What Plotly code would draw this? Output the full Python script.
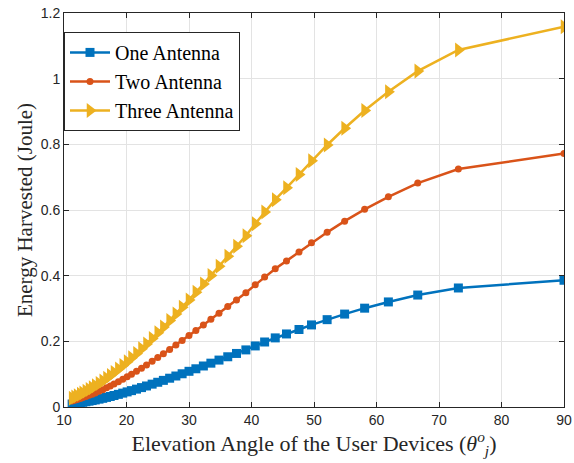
import plotly.graph_objects as go

# Elevation angle (degrees)
elevation = [11.3, 11.7, 12.1, 12.6, 13.0, 13.5, 14.0, 14.5, 15.0, 15.6,
             16.2, 16.8, 17.4, 18.0, 18.7, 19.4, 20.1, 20.8, 21.6, 22.4,
             23.2, 24.1, 25.0, 25.9, 26.9, 27.9, 28.9, 30.0, 31.1, 32.3,
             33.5, 34.8, 36.2, 37.6, 39.1, 40.6, 42.1, 43.8, 45.6, 47.6,
             49.6, 52.1, 54.9, 58.1, 61.9, 66.6, 73.1, 90.0]

one_antenna = [0.0090, 0.0102, 0.0114, 0.0130, 0.0143, 0.0160, 0.0178, 0.0196, 0.0215, 0.0239,
               0.0264, 0.0292, 0.0320, 0.0350, 0.0385, 0.0422, 0.0460, 0.0499, 0.0544, 0.0591,
               0.0640, 0.0696, 0.0753, 0.0811, 0.0877, 0.0944, 0.1012, 0.1087, 0.1164, 0.1249,
               0.1335, 0.1429, 0.1530, 0.1631, 0.1739, 0.1860, 0.1980, 0.2105, 0.2225, 0.2360,
               0.2500, 0.2660, 0.2830, 0.3010, 0.3200, 0.3410, 0.3625, 0.3860]

two_antenna = [0.0180, 0.0204, 0.0228, 0.0260, 0.0286, 0.0320, 0.0356, 0.0392, 0.0430, 0.0478,
               0.0528, 0.0584, 0.0640, 0.0700, 0.0770, 0.0844, 0.0920, 0.0998, 0.1088, 0.1182,
               0.1280, 0.1392, 0.1506, 0.1622, 0.1754, 0.1888, 0.2024, 0.2174, 0.2328, 0.2498,
               0.2670, 0.2858, 0.3060, 0.3262, 0.3478, 0.3720, 0.3960, 0.4210, 0.4450, 0.4720,
               0.5000, 0.5320, 0.5660, 0.6020, 0.6400, 0.6820, 0.7250, 0.7720]

three_antenna = [0.0270, 0.0306, 0.0342, 0.0390, 0.0429, 0.0480, 0.0534, 0.0588, 0.0645, 0.0717,
                 0.0792, 0.0876, 0.0960, 0.1050, 0.1155, 0.1266, 0.1380, 0.1497, 0.1632, 0.1773,
                 0.1920, 0.2088, 0.2259, 0.2433, 0.2631, 0.2832, 0.3036, 0.3261, 0.3492, 0.3747,
                 0.4005, 0.4287, 0.4590, 0.4893, 0.5217, 0.5580, 0.5940, 0.6315, 0.6675, 0.7080,
                 0.7500, 0.7980, 0.8490, 0.9030, 0.9600, 1.0230, 1.0875, 1.1580]

x_ticks = [10, 20, 30, 40, 50, 60, 70, 80, 90]
y_ticks = [0, 0.2, 0.4, 0.6, 0.8, 1.0, 1.2]
y_tick_text = ["0", "0.2", "0.4", "0.6", "0.8", "1", "1.2"]

series = [
    ("One Antenna", one_antenna, "#0072BD", "square", 9),
    ("Two Antenna", two_antenna, "#D95319", "circle", 7),
    ("Three Antenna", three_antenna, "#EDB120", "triangle-right", 13),
]

fig = go.Figure()
for name, vals, color, sym, size in series:
    fig.add_trace(go.Scatter(
        x=elevation, y=vals, name=name, mode="lines+markers",
        line=dict(color=color, width=2.5),
        marker=dict(symbol=sym, size=size, color=color, line=dict(width=0)),
    ))

axis_common = dict(
    showgrid=True, gridcolor="#e3e3e3", gridwidth=1,
    showline=True, linecolor="#262626", linewidth=1, mirror="ticks",
    ticks="inside", ticklen=5, tickcolor="#262626",
    tickfont=dict(family="Liberation Sans, Arial, sans-serif", size=14, color="#262626"),
    zeroline=False, automargin=False,
)

serif = "Liberation Serif, Times New Roman, serif"

fig.update_xaxes(range=[10, 90], tickvals=x_ticks,
                 title=dict(text="Elevation Angle of the User Devices (<i>θ</i><sup><i>o</i></sup><sub><i>j</i></sub>)",
                            font=dict(family=serif, size=22, color="#262626"),
                            standoff=8),
                 **axis_common)
fig.update_yaxes(range=[0, 1.2], tickvals=y_ticks, ticktext=y_tick_text,
                 title=dict(text="Energy Harvested (Joule)",
                            font=dict(family=serif, size=21, color="#262626"),
                            standoff=2),
                 **axis_common)

fig.update_layout(
    width=574, height=463,
    margin=dict(l=64, r=10, t=13, b=56),
    paper_bgcolor="white", plot_bgcolor="white",
    showlegend=True,
    legend=dict(x=0.0, y=0.952, xanchor="left", yanchor="top",
                bgcolor="white", bordercolor="#262626", borderwidth=1,
                font=dict(family=serif, size=20, color="black"),
                tracegroupgap=0, itemwidth=40),
)

fig.write_html("out.html")
